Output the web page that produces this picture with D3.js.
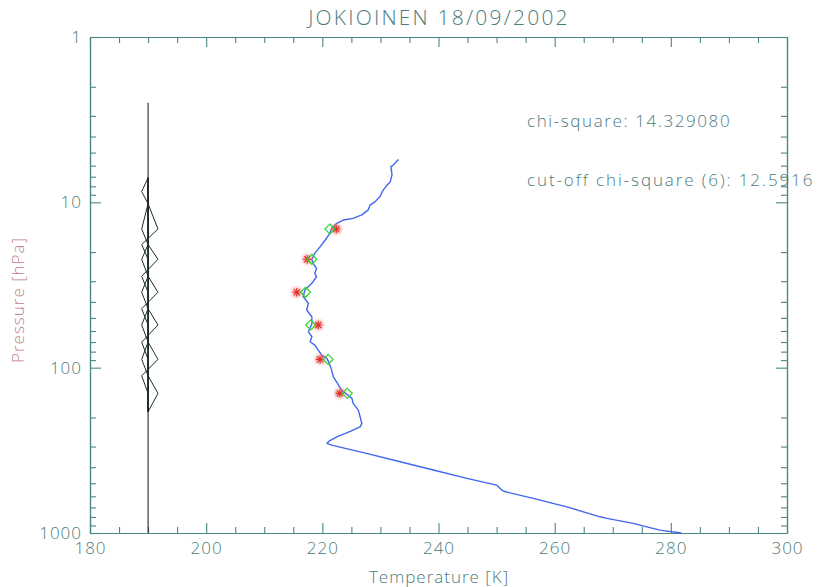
<!DOCTYPE html>
<html>
<head>
<meta charset="utf-8">
<script src="https://cdn.jsdelivr.net/npm/d3@7"></script>
<style>
  body { margin: 0; background: #fff; }
  text { font-family: "Open Sans", sans-serif; font-weight: 300; }
</style>
</head>
<body>
<div id="my_dataviz"></div>
<script>
// retrieved temperature profile (K) against pressure (hPa)
var profileP = [5.5, 5.95, 6.1, 6.8, 7.5, 7.9, 8.4, 9.25, 9.9, 10.4, 11.1, 11.9, 12.5, 12.8, 13.4, 14.4, 15.4, 16.9, 18.6, 20.3,
    22.1, 23.4, 25.1, 26.9, 28.2, 30.9, 33.9, 37.2, 40.8, 44.8, 49.2, 54.0, 60.6, 65.0, 69.7, 73.0, 78.3, 83.9, 87.9, 96.4,
    103.5, 113.5, 127.4, 136.6, 153.4, 164.4, 180.6, 198.2, 217.3, 228, 243, 262, 276, 287, 294, 330, 371, 416, 467, 513,
    550, 563, 618, 695, 798, 816, 875, 960, 1000];
var profileT = [233.1, 232.2, 231.8, 232.0, 231.7, 231.1, 230.5, 229.9, 229.1, 228.2, 227.9, 226.8, 225.3, 223.6, 222.5, 221.6, 221.3, 220.5, 219.6, 218.7,
    218.2, 218.4, 219.0, 218.7, 219.0, 218.2, 217.0, 216.7, 217.6, 217.3, 218.2, 218.2, 217.6, 218.2, 217.9, 218.7, 219.3, 219.9, 220.8, 221.3,
    221.6, 221.9, 222.8, 223.3, 225.1, 225.3, 226.2, 226.5, 226.8, 226.5, 224.8, 222.5, 221.3, 220.8, 221.6, 227.6, 233.4, 239.1, 244.9, 250.0,
    250.9, 251.5, 256.3, 262.1, 267.8, 269.0, 273.5, 278.1, 281.8];

// the six retrieval levels
var levelP = [14.5, 22.1, 35.0, 55.2, 89.1, 143];
var diamondT = [221.3, 218.2, 217.1, 218.0, 221.0, 224.3];
var starT = [222.4, 217.4, 215.6, 219.3, 219.6, 223.0];

// kernel lines drawn around 190 K
var baseT = 190;
var baseTopP = 2.5;
var kernelP = [7.1, 8.6, 10.2, 14.5, 18, 22.1, 28, 35, 44, 55.2, 70, 89.1, 112, 143, 185];
var kernel0 = [190, 188.9, 190, 191.7, 188.9, 190, 190, 190, 190, 190, 190, 190, 190, 190, 190];
var kernel1 = [190, 190, 190, 188.9, 190, 191.7, 188.9, 190, 190, 190, 190, 190, 190, 190, 190];
var kernel2 = [190, 190, 190, 190, 190, 188.9, 190, 191.7, 188.9, 190, 190, 190, 190, 190, 190];
var kernel3 = [190, 190, 190, 190, 190, 190, 190, 188.9, 190, 191.7, 188.9, 190, 190, 190, 190];
var kernel4 = [190, 190, 190, 190, 190, 190, 190, 190, 190, 188.9, 190, 191.7, 188.9, 190, 190];
var kernel5 = [190, 190, 190, 190, 190, 190, 190, 190, 190, 190, 190, 188.9, 190, 191.7, 190];

var xMajor = [180, 200, 220, 240, 260, 280, 300];
var xMinor = [185, 190, 195, 205, 210, 215, 225, 230, 235, 245, 250, 255, 265, 270, 275, 285, 290, 295];
var yMajor = [1, 10, 100, 1000];
var yMinor = [2, 3, 4, 5, 6, 7, 8, 9, 20, 30, 40, 50, 60, 70, 80, 90, 200, 300, 400, 500, 600, 700, 800, 900];

var margin = {top: 37, right: 32, bottom: 54, left: 90},
    width = 819 - margin.left - margin.right,
    height = 587 - margin.top - margin.bottom;

var axisCol = "#4a8686", textCol = "#4d7b7b";

var svg = d3.select("#my_dataviz")
    .append("svg")
    .attr("width", 819)
    .attr("height", 587)
    .append("g")
    .attr("transform", "translate(" + margin.left + "," + margin.top + ")");

var defs = d3.select("svg").append("defs");
defs.append("filter").attr("id", "soft")
    .append("feGaussianBlur").attr("stdDeviation", 1.3);

var x = d3.scaleLinear()
    .domain([180, 300])
    .range([0, width]);

var y = d3.scaleLog()
    .domain([1, 1000])
    .range([0, height]);

function styleAxis(g) {
    g.select(".domain").attr("stroke", axisCol).attr("stroke-width", 1.2);
    g.selectAll(".tick line").attr("stroke", axisCol).attr("stroke-width", 1.1);
    g.selectAll(".tick text").attr("fill", textCol).style("font-size", "17px")
        .style("font-family", "Open Sans").style("font-weight", 300).style("letter-spacing", "1px");
}

// bottom + top
svg.append("g")
    .attr("transform", "translate(0," + height + ")")
    .call(d3.axisBottom(x).tickValues(xMajor).tickSize(-10).tickSizeOuter(0).tickPadding(9).tickFormat(d3.format("d")))
    .call(styleAxis);
svg.append("g")
    .attr("transform", "translate(0," + height + ")")
    .call(d3.axisBottom(x).tickValues(xMinor).tickSize(-6).tickSizeOuter(0).tickFormat(""))
    .call(styleAxis);
svg.append("g")
    .call(d3.axisTop(x).tickValues(xMajor).tickSize(-10).tickSizeOuter(0).tickFormat(""))
    .call(styleAxis);
svg.append("g")
    .call(d3.axisTop(x).tickValues(xMinor).tickSize(-6).tickSizeOuter(0).tickFormat(""))
    .call(styleAxis);

// left + right
svg.append("g")
    .call(d3.axisLeft(y).tickValues(yMajor).tickSize(-11).tickSizeOuter(0).tickPadding(8).tickFormat(d3.format("d")))
    .call(styleAxis);
svg.append("g")
    .call(d3.axisLeft(y).tickValues(yMinor).tickSize(-6).tickSizeOuter(0).tickFormat(""))
    .call(styleAxis);
svg.append("g")
    .attr("transform", "translate(" + width + ",0)")
    .call(d3.axisRight(y).tickValues(yMajor).tickSize(-11).tickSizeOuter(0).tickFormat(""))
    .call(styleAxis);
svg.append("g")
    .attr("transform", "translate(" + width + ",0)")
    .call(d3.axisRight(y).tickValues(yMinor).tickSize(-6).tickSizeOuter(0).tickFormat(""))
    .call(styleAxis);

// vertical reference line at 190 K
svg.append("line")
    .attr("x1", x(baseT)).attr("x2", x(baseT))
    .attr("y1", y(baseTopP)).attr("y2", y(1000))
    .attr("stroke", "#1e2a2a")
    .attr("stroke-width", 1.1);

var kernelLine = d3.line()
    .x(function(d) { return x(d.T) })
    .y(function(d) { return y(d.p) });

[kernel0, kernel1, kernel2, kernel3, kernel4, kernel5].forEach(function(k) {
    svg.append("path")
        .datum(k.map(function(t, i) { return {T: t, p: kernelP[i]} }))
        .attr("fill", "none")
        .attr("stroke", "#1e2a2a")
        .attr("stroke-width", 1)
        .attr("d", kernelLine);
});

// temperature profile
var profile = profileP.map(function(p, i) { return {p: p, T: profileT[i]} });
svg.append("path")
    .datum(profile)
    .attr("fill", "none")
    .attr("stroke", "#4166f0")
    .attr("stroke-width", 1.4)
    .attr("stroke-linejoin", "round")
    .attr("d", d3.line()
        .x(function(d) { return x(d.T) })
        .y(function(d) { return y(d.p) }));

// red asterisks
var star = {
    draw: function(ctx, size) {
        var r = Math.sqrt(size) / 2, q = r * 0.72;
        ctx.moveTo(-r, 0); ctx.lineTo(r, 0);
        ctx.moveTo(0, -r); ctx.lineTo(0, r);
        ctx.moveTo(-q, -q); ctx.lineTo(q, q);
        ctx.moveTo(-q, q); ctx.lineTo(q, -q);
    }
};
var stars = levelP.map(function(p, i) { return {p: p, T: starT[i]} });
svg.append("g").selectAll("path")
    .data(stars)
    .enter()
    .append("path")
        .attr("transform", function(d) { return "translate(" + x(d.T) + "," + y(d.p) + ")" })
        .attr("d", d3.symbol(star, 130))
        .attr("fill", "none")
        .attr("stroke", "#f07070")
        .attr("stroke-width", 2.5)
        .attr("opacity", 0.55)
        .attr("filter", "url(#soft)");
svg.append("g").selectAll("path")
    .data(stars)
    .enter()
    .append("path")
        .attr("transform", function(d) { return "translate(" + x(d.T) + "," + y(d.p) + ")" })
        .attr("d", d3.symbol(star, 70))
        .attr("fill", "none")
        .attr("stroke", "#e0302a")
        .attr("stroke-width", 1.1);

// green diamonds
svg.append("g").selectAll("path")
    .data(levelP.map(function(p, i) { return {p: p, T: diamondT[i]} }))
    .enter()
    .append("path")
        .attr("transform", function(d) { return "translate(" + x(d.T) + "," + y(d.p) + ")" })
        .attr("d", d3.symbol(d3.symbolDiamond2, 64))
        .attr("fill", "none")
        .attr("stroke", "#2fd62f")
        .attr("stroke-width", 1.2);

// texts
d3.select("svg").append("text")
    .attr("x", 439).attr("y", 25)
    .attr("text-anchor", "middle")
    .attr("fill", textCol)
    .style("font-size", "21px")
    .style("letter-spacing", "2.2px")
    .text("JOKIOINEN 18/09/2002");

d3.select("svg").append("text")
    .attr("x", 439).attr("y", 583)
    .attr("text-anchor", "middle")
    .attr("fill", textCol)
    .style("font-size", "17px")
    .style("letter-spacing", "1px")
    .text("Temperature [K]");

d3.select("svg").append("text")
    .attr("transform", "translate(24,300) rotate(-90)")
    .attr("text-anchor", "middle")
    .attr("fill", "#bf7f7f")
    .style("font-size", "17px")
    .style("letter-spacing", "1px")
    .text("Pressure [hPa]");

d3.select("svg").append("text")
    .attr("x", 527).attr("y", 127)
    .attr("fill", textCol)
    .style("font-size", "17px")
    .style("letter-spacing", "1.6px")
    .text("chi-square: 14.329080");

d3.select("svg").append("text")
    .attr("x", 527).attr("y", 186)
    .attr("fill", textCol)
    .style("font-size", "17px")
    .style("letter-spacing", "1.9px")
    .text("cut-off chi-square (6): 12.5916");
</script>
</body>
</html>
